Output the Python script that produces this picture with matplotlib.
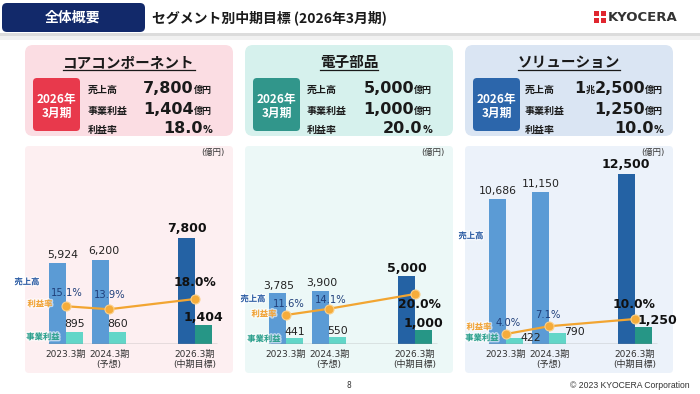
import matplotlib
matplotlib.use('Agg')
import matplotlib.pyplot as plt
from matplotlib.patches import FancyBboxPatch, Rectangle
from matplotlib.transforms import Affine2D
import matplotlib.patheffects as pe

plt.rcParams['font.family'] = ['DejaVu Sans', 'Noto Sans CJK JP']

# ---------------- data ----------------
segment_names = ['コアコンポーネント', '電子部品', 'ソリューション']
periods = ['2023.3期', '2024.3期\n(予想)', '2026.3期\n(中期目標)']
period_pos = [0, 1, 3]

core_sales = [5924, 6200, 7800]
core_profit = [895, 860, 1404]
core_rate = [15.1, 13.9, 18.0]

elec_sales = [3785, 3900, 5000]
elec_profit = [441, 550, 1000]
elec_rate = [11.6, 14.1, 20.0]

sol_sales = [10686, 11150, 12500]
sol_profit = [422, 790, 1250]
sol_rate = [4.0, 7.1, 10.0]

header_tag = '全体概要'
title = 'セグメント別中期目標 (2026年3月期)'
target_label = '2026年\n3月期'
row_labels = ['売上高', '事業利益', '利益率']
series_labels = ['売上高', '利益率', '事業利益']
unit_label = '(億円)'
footer_page = '8'
footer_copy = '© 2023 KYOCERA Corporation'

# ---------------- styles ----------------
W, H = 700, 394
fig = plt.figure(figsize=(7, 3.94), dpi=100)
fig.patch.set_facecolor('white')
T = Affine2D().scale(1 / W, -1 / H).translate(0, 1) + fig.transFigure
renderer = fig.canvas.get_renderer()

JP = 'Noto Sans CJK JP'
NAVY = '#12296a'
C_SALES = '#5b9bd5'
C_SALES_T = '#2462a4'
C_PROF = '#62d6c8'
C_PROF_T = '#269686'
C_ORANGE = '#f2a531'
C_LBL_SALES = '#2e5ea5'
C_LBL_RATE = '#f0a030'
C_LBL_PROF = '#2a9f8c'

panels = [
    dict(name=segment_names[0], sales=core_sales, profit=core_profit, rate=core_rate,
         L=25, card='#fbdde3', bg='#fdeff1', box='#e8394c', right=212, lab=63),
    dict(name=segment_names[1], sales=elec_sales, profit=elec_profit, rate=elec_rate,
         L=245, card='#d6f1ed', bg='#ecf8f7', box='#31968b', right=432, lab=62),
    dict(name=segment_names[2], sales=sol_sales, profit=sol_profit, rate=sol_rate,
         L=465, card='#dae5f3', bg='#ecf2fa', box='#2c66ab', right=663, lab=60),
]

# label layout (pixel offsets)
sales_off = [[(5, 8), (3, 9), (1, 9)], [(1, 7), (1, 8), (0, 8)], [(0, 8), (0, 8), (-1, 9)]]
prof_off = [[(0, 8), (0, 8), (0, 7)], [(0, 6), (0, 6), (0, 7)], [(16, 0), (17, 1), (14, 7)]]
rate_off = [[(1, 13), (1, 14), (0, 16)], [(3, 11), (2, 9), (4, -11)], [(2, 11), (-1, 11), (-1, 14)]]
series_pos = [[(27, 282), (40, 304), (43, 337)],
              [(253, 299), (264, 314), (264, 339)],
              [(471, 236), (479, 327), (482, 338)]]


def rbox(x0, y0, x1, y1, r, color, z=0):
    p = FancyBboxPatch((x0, y0), x1 - x0, y1 - y0,
                       boxstyle=f'round,pad=0,rounding_size={r}',
                       transform=T, fc=color, ec='none', zorder=z)
    fig.add_artist(p)


def ftext(x, y, s, **kw):
    return fig.text(x, y, s, transform=T, **kw)


# ---------------- header ----------------
rbox(2, 3, 145, 32, 5, NAVY)
ftext(73, 17.5, header_tag, ha='center', va='center', fontsize=10, fontweight='bold',
      color='white', family=JP)
ftext(152, 17.5, title, ha='left', va='center', fontsize=10, fontweight='bold',
      color='#1a1a1a', family=[JP])
fig.add_artist(Rectangle((0, 33), W, 3, transform=T, fc='#dcdcdc', ec='none'))
fig.add_artist(Rectangle((0, 36), W, 4, transform=T, fc='#f1f1f1', ec='none'))
# logo
fig.add_artist(Rectangle((594, 11), 12, 12, transform=T, fc='#e0262f', ec='none'))
fig.add_artist(Rectangle((599, 11), 2, 12, transform=T, fc='white', ec='none'))
fig.add_artist(Rectangle((594, 16), 12, 2, transform=T, fc='white', ec='none'))
ftext(608, 17.5, 'KYOCERA', ha='left', va='center', fontsize=9.5, fontweight='bold',
      color='#333333')

# ---------------- panels ----------------
for i, P in enumerate(panels):
    L = P['L']
    # top card
    rbox(L, 45, L + 208, 136, 8, P['card'])
    t = ftext(L + 104, 62, P['name'], ha='center', va='center', fontsize=10.5,
              fontweight='bold', color='#1a1a1a', family=JP)
    bb = t.get_window_extent(renderer)
    fig.add_artist(plt.Line2D([bb.x0 / W, bb.x1 / W], [1 - 69.5 / H, 1 - 69.5 / H],
                              transform=fig.transFigure, color='#1a1a1a', lw=0.9))
    rbox(L + 8, 78, L + 55, 131, 4, P['box'])
    ftext(L + 31.5, 106, target_label, ha='center', va='center', fontsize=8.5,
          fontweight='bold', color='white', family=JP, linespacing=1.1)

    s_last, p_last, r_last = P['sales'][-1], P['profit'][-1], P['rate'][-1]
    if s_last >= 10000:
        sales_segs = [(str(s_last // 10000), 11.5), ('兆', 6.5),
                      (f'{s_last % 10000:,}', 11.5), ('億円', 6.5)]
    else:
        sales_segs = [(f'{s_last:,}', 11.5), ('億円', 6.5)]
    rows = [sales_segs, [(f'{p_last:,}', 11.5), ('億円', 6.5)],
            [(f'{r_last:.1f}', 11.5), ('%', 7)]]
    baselines = [93, 114, 133]
    for lbl, segs, yb in zip(row_labels, rows, baselines):
        ftext(L + P['lab'], yb, lbl, ha='left', va='baseline', fontsize=7.2,
              fontweight='bold', color='#1a1a1a', family=JP)
        x = P['right']
        for s, size in reversed(segs):
            tt = ftext(x, yb, s, ha='right', va='baseline', fontsize=size,
                       fontweight='bold', color='#1a1a1a')
            x -= tt.get_window_extent(renderer).width

    # chart background
    rbox(L, 146, L + 208, 373, 4, P['bg'])
    ftext(L + 200, 152, unit_label, ha='right', va='center', fontsize=6, color='#333333')

    ax = fig.add_axes([L / W, 1 - 344 / H, 208 / W, 194 / H])
    ax.patch.set_visible(False)
    ax.set_xlim(-41 / 43, 167 / 43)
    ax.set_ylim(0, 194 / 0.0136)
    for sp in ax.spines.values():
        sp.set_visible(False)
    ax.set_yticks([])
    ax.set_xticks(period_pos)
    ax.set_xticklabels(periods, fontsize=6.5, color='#333333', linespacing=1.2)
    ax.tick_params(axis='x', length=0, pad=4)

    xs_s = [p - 0.2 for p in period_pos]
    xs_p = [p + 0.2 for p in period_pos]
    ax.bar(xs_s, P['sales'], width=0.4, color=[C_SALES, C_SALES, C_SALES_T], zorder=2)
    ax.bar(xs_p, P['profit'], width=0.4, color=[C_PROF, C_PROF, C_PROF_T], zorder=2)
    ax.hlines(0, -0.42, 3.5, color='#8c8c8c', lw=1, zorder=3)

    for k in range(3):
        bold = (k == 2)
        kw = dict(ha='center', va='center', textcoords='offset pixels',
                  fontsize=9 if bold else 7.8, fontweight='bold' if bold else 'normal',
                  color='#111111' if bold else '#222222', zorder=6)
        ax.annotate(f"{P['sales'][k]:,}", (xs_s[k], P['sales'][k]), xytext=sales_off[i][k], **kw)
        ax.annotate(f"{P['profit'][k]:,}", (xs_p[k], P['profit'][k]), xytext=prof_off[i][k], **kw)

    ax2 = ax.twinx()
    ax2.patch.set_visible(False)
    ax2.set_ylim(0, 194 / 2.5)
    ax2.axis('off')
    ax2.plot(period_pos, P['rate'], color=C_ORANGE, lw=1.6, marker='o', ms=6.5,
             mfc='#f5ac3a', mec='#fbd08a', mew=0.8, zorder=4)
    for k in range(3):
        bold = (k == 2)
        ax2.annotate(f"{P['rate'][k]:.1f}%", (period_pos[k], P['rate'][k]),
                     xytext=rate_off[i][k], textcoords='offset pixels', ha='center',
                     va='center', fontsize=8.8 if bold else 7.2,
                     fontweight='bold' if bold else 'normal',
                     color='#111111' if bold else '#1f3f7a', zorder=6)

    halo = [pe.withStroke(linewidth=2, foreground='white', alpha=0.6)]
    for lbl, (px, py), col in zip(series_labels, series_pos[i],
                                  [C_LBL_SALES, C_LBL_RATE, C_LBL_PROF]):
        ftext(px, py, lbl, ha='center', va='center', fontsize=6, fontweight='bold',
              color=col, family=JP, path_effects=halo, zorder=10)

# ---------------- footer ----------------
ftext(349, 386, footer_page, ha='center', va='center', fontsize=5.5, color='#333333')
ftext(690, 386, footer_copy, ha='right', va='center', fontsize=6.2, color='#333333',
      family=['Liberation Sans', 'DejaVu Sans'])

fig.savefig('out.png', dpi=100)
